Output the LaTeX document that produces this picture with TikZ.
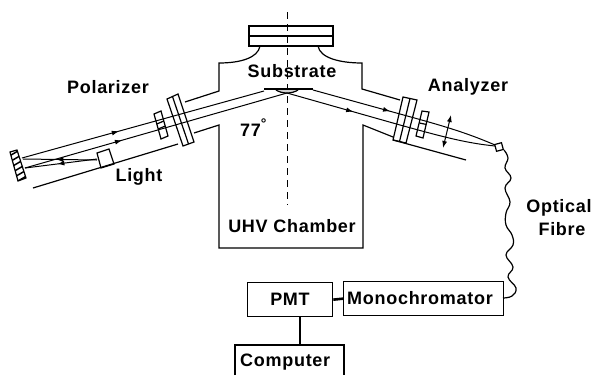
\documentclass[tikz,border=0pt]{standalone}
\usepackage{fontspec}
\setmainfont{Liberation Sans}[LetterSpace=4]
\usetikzlibrary{arrows.meta,decorations.markings,calc}
\tikzset{
    wall/.style={line width=1.2pt},
    boxnode/.style={draw,line width=1.3pt,inner sep=0pt,anchor=north west},
    lbl/.style={font=\fontsize{18}{18}\selectfont\bfseries,inner sep=0pt},
    beam/.style={line width=1pt},
    beamarrow/.style={postaction={decorate},decoration={markings,mark=at position #1 with {\arrow{Latex[length=7pt,width=5pt]}}}},
    link/.style={line width=2.6pt},
}
\begin{document}
\begin{tikzpicture}[x=1pt,y=-1pt]
\useasboundingbox (0,0) rectangle (596,375);

% flange on top
\draw[wall] (249,26) rectangle (333,46);
\draw[wall] (249,36) -- (333,36);

% chamber
\draw[wall] (260,46) .. controls (258,58) and (240,63) .. (219,63) -- (219,91) -- (185,102);
\draw[wall] (318,46) .. controls (320,58) and (340,63) .. (362,63) -- (362,89) -- (400,100);
\draw[wall] (194,133) -- (219,125) -- (219,248) -- (363,248) -- (363,125) -- (393,137);

% centre line
\draw[line width=0.9pt,dash pattern=on 7pt off 5pt] (287,12) -- (287,205);

% substrate
\draw[line width=2.2pt] (264,89) -- (313,89);
\draw[wall,fill=gray!35] (276,90) .. controls (282,94) and (292,94) .. (298,90);

% left arm
\draw[wall] (178,144) -- (33,188);
\draw[wall] (167,99) -- (178,94) -- (194,142) -- (183,146) -- cycle;
\draw[wall] (172.5,96.5) -- (188.5,144);
\draw[wall] (154,114) -- (161,111) -- (168,136) -- (161,139) -- cycle;
\foreach \t in {0.4,0.6}
    \draw[wall] ($(154,114)!\t!(161,139)$) -- ($(161,111)!\t!(168,136)$);
\draw[wall] (97,153) -- (109,149) -- (114,164) -- (101,168) -- cycle;

% beams
\draw[beam,beamarrow=0.4] (22,158) -- (264,91);
\draw[beam,beamarrow=0.37] (25,168) -- (287,93);
\draw[beam,beamarrow=0.55] (97,160) -- (23,159);
\draw[beam,beamarrow=0.55] (97,159) -- (25,168);
\draw[beam,beamarrow=0.42] (313,90) -- (400,114) .. controls (440,125) and (465,132) .. (495,145);
\draw[beam,beamarrow=0.32] (287,93) -- (400,125) .. controls (440,136) and (465,143) .. (495,146);

% mirror
\begin{scope}
\clip (10,152) -- (17,150) -- (26,178) -- (18,181) -- cycle;
\foreach \s in {0,...,5}
    \draw[line width=1.5pt] (6,{158+\s*6}) -- (30,{144+\s*6});
\end{scope}
\draw[wall] (10,152) -- (17,150) -- (26,178) -- (18,181) -- cycle;

% right arm
\draw[wall] (393,140) -- (466,160);
\draw[wall] (403,97) -- (417,100) -- (406,143) -- (393,140) -- cycle;
\draw[wall] (410,98.5) -- (399.5,141.5);
\draw[wall] (422,111) -- (429,112) -- (423,138) -- (416,136) -- cycle;
\draw[wall] (419.5,123) -- (426.5,124.5);
\draw[line width=1pt,{Latex[length=7pt,width=5pt]}-{Latex[length=7pt,width=5pt]}] (451,115) -- (443,148);

% fibre
\node[draw,line width=1.2pt,minimum size=7pt,inner sep=0pt,rotate=15,fill=white] (fibrehead) at (499,147) {};
\draw[wall] plot[smooth,tension=0.7] coordinates {(504,150) (508,158) (505,168) (511,178) (505,188) (510,202) (506,213) (506,225) (512,235) (513,245) (506,255) (513,267) (508,277) (516,288) (512,296) (503,298)};

% boxes
\node[boxnode,minimum width=85pt,minimum height=34pt] (pmt) at (247,282) {};
\node[lbl] at (290,299) {PMT};
\node[boxnode,minimum width=160pt,minimum height=34pt] (mono) at (343,281) {};
\node[lbl] at (420,298) {Monochromator};
\node[lbl,anchor=west] (computerlbl) at (240,362) {Computer};
\draw[wall] (235,375) -- (235,345) coordinate (compnw) -- (344,345) coordinate (compne) -- (344,375);
\coordinate (comptop) at (300,345);
\draw[link] (pmt.east) -- (mono.west);
\draw[link] (pmt.south -| comptop) -- (comptop);

% labels
\node[lbl] (polarizerlbl) at (108,87) {Polarizer};
\node[lbl] (lightlbl) at (139,177) {Light};
\node[lbl] (substratelbl) at (292,71) {Substrate};
\node[lbl] (analyzerlbl) at (468,87) {Analyzer};
\node[lbl,anchor=west] (anglelbl) at (240,128) {77\raisebox{8pt}{\fontsize{14}{14}\selectfont °}};
\node[lbl] (chamberlbl) at (292,226) {UHV Chamber};
\node[lbl] (opticallbl) at (559,208) {Optical};
\node[lbl] (fibrelbl) at (562,229) {Fibre};

\end{tikzpicture}
\end{document}
